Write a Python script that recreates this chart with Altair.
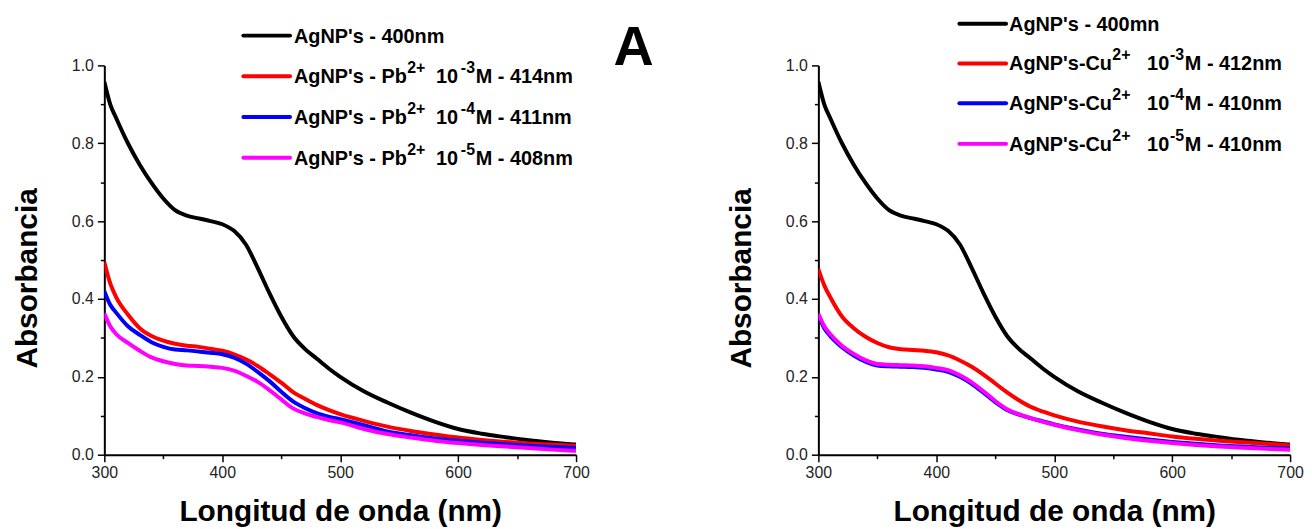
import altair as alt
import pandas as pd

# ---------------- data ----------------
wl = [300, 305, 310, 320, 330, 340, 350, 360, 370, 380, 390, 400, 410, 420, 430, 440,
      450, 460, 470, 480, 490, 500, 520, 540, 560, 580, 600, 620, 640, 660, 680, 700]

agnp = [0.958, 0.90, 0.865, 0.80, 0.745, 0.698, 0.658, 0.628, 0.614, 0.607, 0.60, 0.592, 0.575, 0.54, 0.48, 0.415,
        0.355, 0.305, 0.272, 0.247, 0.222, 0.20, 0.163, 0.134, 0.108, 0.085, 0.066, 0.054, 0.045, 0.037, 0.031, 0.026]

pb3 = [0.495, 0.44, 0.405, 0.36, 0.325, 0.305, 0.293, 0.285, 0.28, 0.277, 0.272, 0.267, 0.258, 0.245, 0.228, 0.207,
       0.185, 0.161, 0.144, 0.128, 0.115, 0.104, 0.087, 0.072, 0.061, 0.052, 0.044, 0.038, 0.033, 0.029, 0.026, 0.023]
pb4 = [0.42, 0.385, 0.365, 0.33, 0.308, 0.289, 0.277, 0.27, 0.268, 0.265, 0.262, 0.258, 0.249, 0.234, 0.213, 0.189,
       0.162, 0.137, 0.12, 0.107, 0.098, 0.091, 0.076, 0.06, 0.05, 0.042, 0.036, 0.031, 0.027, 0.023, 0.02, 0.017]
pb5 = [0.363, 0.33, 0.31, 0.287, 0.267, 0.25, 0.24, 0.233, 0.229, 0.228, 0.226, 0.223, 0.216, 0.203, 0.187, 0.166,
       0.142, 0.119, 0.106, 0.097, 0.089, 0.083, 0.066, 0.053, 0.044, 0.036, 0.03, 0.025, 0.021, 0.017, 0.013, 0.01]

cu3 = [0.477, 0.435, 0.405, 0.355, 0.325, 0.303, 0.287, 0.276, 0.271, 0.269, 0.267, 0.263, 0.255, 0.242, 0.226, 0.206,
       0.183, 0.16, 0.14, 0.123, 0.111, 0.101, 0.085, 0.073, 0.063, 0.055, 0.047, 0.041, 0.036, 0.032, 0.028, 0.024]
cu4 = [0.358, 0.325, 0.305, 0.276, 0.255, 0.239, 0.229, 0.227, 0.226, 0.225, 0.223, 0.219, 0.213, 0.2, 0.182, 0.159,
       0.135, 0.115, 0.103, 0.094, 0.086, 0.078, 0.065, 0.054, 0.046, 0.039, 0.033, 0.028, 0.024, 0.021, 0.018, 0.016]
cu5 = [0.362, 0.33, 0.31, 0.28, 0.259, 0.243, 0.233, 0.231, 0.23, 0.229, 0.227, 0.223, 0.217, 0.204, 0.186, 0.163,
       0.138, 0.117, 0.104, 0.094, 0.085, 0.077, 0.063, 0.052, 0.043, 0.036, 0.03, 0.025, 0.021, 0.018, 0.015, 0.013]

colors = ["#000000", "#FF0000", "#0000FF", "#FF00FF"]

left_legend = [
    ["AgNP's - 400nm"],
    ["AgNP's - Pb", "2+", "10", "-3", "M - 414nm"],
    ["AgNP's - Pb", "2+", "10", "-4", "M - 411nm"],
    ["AgNP's - Pb", "2+", "10", "-5", "M - 408nm"],
]
right_legend = [
    ["AgNP's - 400mn"],
    ["AgNP's-Cu", "2+", "10", "-3", "M - 412nm"],
    ["AgNP's-Cu", "2+", "10", "-4", "M - 410nm"],
    ["AgNP's-Cu", "2+", "10", "-5", "M - 410nm"],
]
panel_label = "A"
x_title = "Longitud de onda (nm)"
y_title = "Absorbancia"

# ---------------- styling ----------------
W, H = 475, 392
NARROW = "Liberation Sans Narrow, Arial Narrow, Liberation Sans, Arial"
BOLD = "Liberation Sans, Arial"

x_axis = alt.Axis(
    values=list(range(300, 701, 50)),
    labelExpr="datum.value % 100 == 0 ? datum.label : ''",
    tickSize={"condition": {"test": "datum.value % 100 == 0", "value": 7}, "value": 4},
    grid=False, domainColor="black", domainWidth=2, tickColor="black", tickWidth=1.5,
    labelFont=NARROW, labelFontSize=16, labelColor="#222", labelPadding=3, labelFlush=False,
    title=x_title, titleFont=BOLD, titleFontSize=30, titleFontWeight="bold",
    titleColor="black", titlePadding=16, labelOverlap=False,
)


def y_axis():
    return alt.Axis(
        values=[round(v * 0.1, 1) for v in range(0, 11)],
        labelExpr="round(datum.value * 10) % 2 == 0 ? format(datum.value, '.1f') : ''",
        tickSize={"condition": {"test": "round(datum.value * 10) % 2 == 0", "value": 7}, "value": 4},
        grid=False, domainColor="black", domainWidth=2, tickColor="black", tickWidth=1.5,
        labelFont=NARROW, labelFontSize=16, labelColor="#222", labelPadding=4, labelFlush=False,
        title=y_title, titleFont=BOLD, titleFontSize=30, titleFontWeight="bold",
        titleColor="black", titleX=-68, titleY=214, titleAngle=-90,
        titleAlign="center", titleBaseline="alphabetic", labelOverlap=False,
    )


def panel(series, legend_rows, line_x, text_x, row_ys, offs, extra=None):
    layers = []
    for vals, col in zip(series, colors):
        df = pd.DataFrame({"wl": wl, "abs": vals})
        layers.append(
            alt.Chart(df).mark_line(strokeWidth=4, color=col, clip=True, interpolate="monotone").encode(
                x=alt.X("wl:Q", scale=alt.Scale(domain=[300, 700], nice=False), axis=x_axis),
                y=alt.Y("abs:Q", scale=alt.Scale(domain=[0, 1], nice=False), axis=y_axis()),
            )
        )
    one = pd.DataFrame({"k": [0]})
    for row, col, ry in zip(legend_rows, colors, row_ys):
        layers.append(
            alt.Chart(one).mark_rule(strokeWidth=4, color=col, strokeCap="round").encode(
                x=alt.value(line_x[0]), x2=alt.value(line_x[1]), y=alt.value(ry)
            )
        )
        for i, piece in enumerate(row):
            sup = i in (1, 3)
            pdf = pd.DataFrame({"t": [piece]})
            layers.append(
                alt.Chart(pdf).mark_text(
                    align="left", baseline="alphabetic", font=BOLD, fontWeight="bold",
                    fontSize=16 if sup else 20, color="black",
                ).encode(
                    text="t:N",
                    x=alt.value(text_x + offs[i]),
                    y=alt.value(ry + (-3 if sup else 7)),
                )
            )
    if extra is not None:
        layers.append(extra)
    return alt.layer(*layers).properties(width=W, height=H)


label_df = pd.DataFrame({"t": [panel_label]})
big_a = alt.Chart(label_df).mark_text(
    align="center", baseline="alphabetic", font=NARROW, fontWeight="bold", fontSize=56, color="black"
).encode(text="t:N", x=alt.value(533), y=alt.value(0))

left = panel([agnp, pb3, pb4, pb5], left_legend, (140, 187), 191, [-30, 11, 52, 93],
             [0, 114, 143, 168, 183], extra=big_a)
right = panel([agnp, cu3, cu4, cu5], right_legend, (142, 189), 192, [-42, -2, 38, 79],
              [0, 104, 139, 162, 177])

chart = (
    alt.hconcat(left, right, spacing=73)
    .properties(padding={"left": 5, "top": 5, "right": 0, "bottom": 0})
    .configure_view(stroke=None)
)

chart.save("out.html", embed_options={"renderer": "svg", "actions": False})
